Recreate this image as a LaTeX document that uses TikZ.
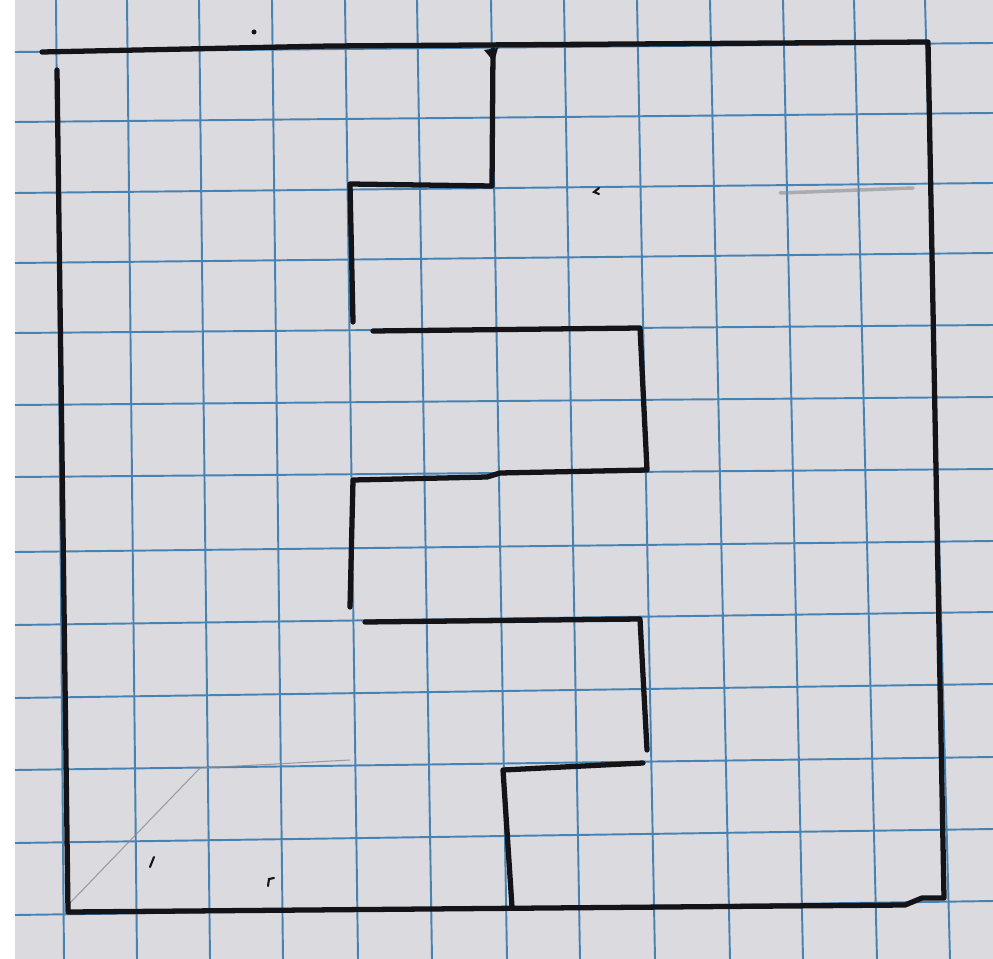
\documentclass[tikz,border=0pt]{standalone}
\usepackage{tikz}
\usepackage{xcolor}
\definecolor{paper}{HTML}{DBDADF}
\definecolor{gridblue}{HTML}{4682B2}
\definecolor{ink}{HTML}{131318}
\definecolor{pencil}{HTML}{8A8A90}
\tikzset{
  gridLine/.style={draw=gridblue, line width=1.1pt},
  wallLine/.style={draw=ink, line width=3pt, line cap=round, line join=round},
  pencilLine/.style={draw=pencil, line width=0.6pt, opacity=0.8},
  speckMark/.style={draw=ink, line width=1.2pt, line cap=round}
}

\begin{document}
\begin{tikzpicture}[x=0.02cm,y=-0.02cm]
  \useasboundingbox (0,0) rectangle (993,959);
  \fill[white] (0,0) rectangle (15,959);
  \fill[paper] (15,0) rectangle (993,959);
  \foreach \xt/\xb in {56/64,127/137,199/210,272/283,345/358,417/432,491/507,564/580,637/655,710/730,783/803,854/877,925/950}
    \draw[gridLine] (\xt,0) -- (\xb,959);
  \foreach \yl/\yr in {52/43,122/113,193/183,263/253,333/325,405/397,477/469,552/541,625/612,698/684,770/757,843/829,915/901}
    \draw[gridLine] (15,\yl) -- (993,\yr);
  \draw[pencilLine] (70,903) -- (200,768) -- (350,760);
  \draw[draw=pencil, line width=2pt, opacity=0.6, line cap=round] (780,193) -- (913,188);
  \draw[wallLine] (57,70) -- (68,912) -- (905,905) -- (922,898) -- (944,898) -- (928,42) -- (330,46) -- (42,52);
  \draw[wallLine] (493,50) -- (492,186) -- (350,184) -- (353,322);
  \fill[ink] (484,50) -- (498,48) -- (494,62) -- cycle;
  \draw[wallLine] (373,331) -- (640,328) -- (647,470) -- (500,473) -- (487,477) -- (353,480) -- (350,607);
  \draw[wallLine] (365,622) -- (640,619) -- (647,750);
  \draw[wallLine] (643,763) -- (503,770) -- (512,907);
  \fill[ink] (254,32) circle (2.5);
  \draw[speckMark] (154,857) -- (150,867);
  \draw[speckMark] (268,886) -- (269,879) -- (274,878);
  \draw[speckMark] (599,188) -- (594,192) -- (599,194);
\end{tikzpicture}
\end{document}
